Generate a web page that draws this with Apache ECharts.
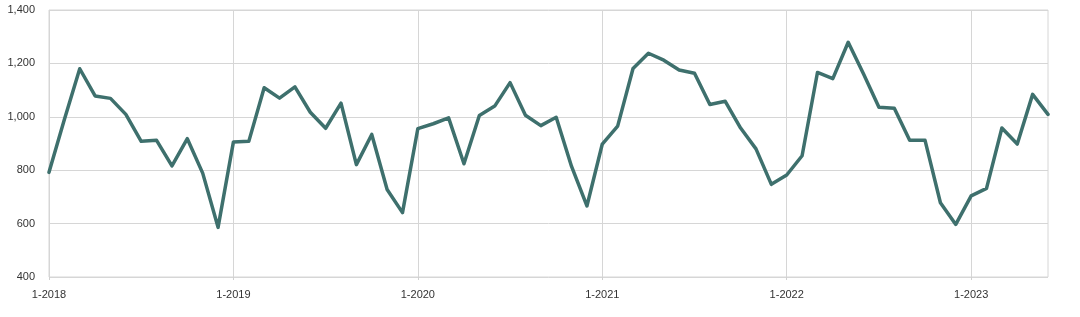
<!DOCTYPE html>
<html>
<head>
<meta charset="utf-8">
<script src="https://cdn.jsdelivr.net/npm/echarts@6/dist/echarts.min.js"></script>
<style>html,body{margin:0;padding:0;background:#fff;}#c{width:1080px;height:317px;}</style>
</head>
<body>
<div id="c"></div>
<script>
const years = [2018, 2019, 2020, 2021, 2022, 2023];
const categories = [];
years.forEach(y => { for (let m = 1; m <= 12; m++) categories.push(m + '-' + y); });
const v2018 = [792, 990, 1180, 1078, 1069, 1009, 908, 912, 816, 918, 789, 586];
const v2019 = [906, 908, 1109, 1070, 1112, 1017, 957, 1051, 821, 934, 728, 641];
const v2020 = [956, 974, 996, 824, 1005, 1040, 1128, 1006, 967, 998, 814, 666];
const v2021 = [898, 965, 1181, 1238, 1212, 1175, 1163, 1046, 1058, 958, 880, 747];
const v2022 = [782, 854, 1166, 1143, 1279, 1160, 1036, 1032, 912, 912, 678, 597];
const v2023 = [704, 732, 958, 898, 1084, 1009];
const values = [].concat(v2018, v2019, v2020, v2021, v2022, v2023);
const cats = categories.slice(0, values.length);
const yTicks = { min: 400, max: 1400, interval: 200 };

const chart = echarts.init(document.getElementById('c'));
chart.setOption({
  animation: false,
  grid: { left: 49, right: 32, top: 10, bottom: 40, show: true, borderColor: '#d6d6d6', borderWidth: 1 },
  xAxis: {
    type: 'category', data: cats, boundaryGap: false,
    axisLine: { show: false },
    axisTick: { show: true, length: 3, interval: (i) => i % 12 === 0, lineStyle: { color: '#d0d0d0' } },
    axisLabel: { interval: (i) => i % 12 === 0, color: '#333', fontFamily: 'Liberation Sans', fontSize: 11, margin: 12 },
    splitLine: { show: true, interval: (i) => i % 12 === 0, lineStyle: { color: '#d6d6d6', width: 1 } }
  },
  yAxis: {
    type: 'value', min: yTicks.min, max: yTicks.max, interval: yTicks.interval,
    axisLine: { show: false }, axisTick: { show: false },
    axisLabel: { color: '#333', fontFamily: 'Liberation Sans', fontSize: 11, margin: 14,
      formatter: (v) => v.toLocaleString('en-US') },
    splitLine: { lineStyle: { color: '#d6d6d6', width: 1 } }
  },
  series: [{
    type: 'line', data: values, showSymbol: false,
    lineStyle: { color: '#3e706d', width: 3.5, join: 'round', cap: 'round' },
    itemStyle: { color: '#3e706d' }
  }]
});
</script>
</body>
</html>
